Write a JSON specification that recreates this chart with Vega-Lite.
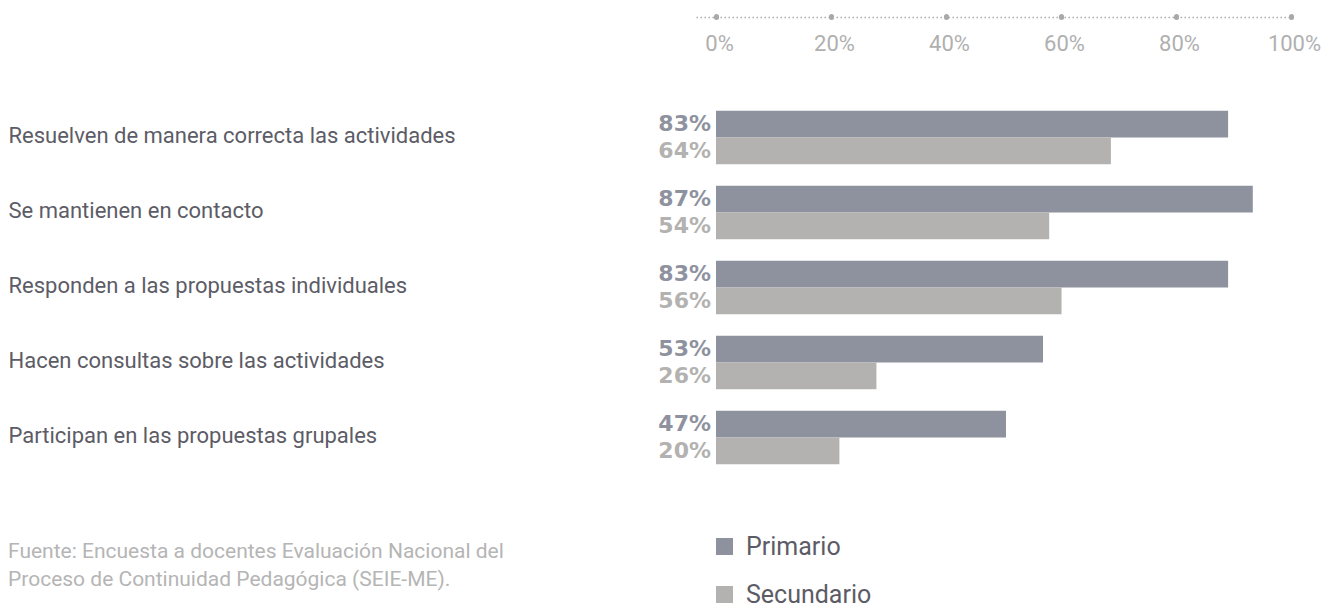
{
  "$schema": "https://vega.github.io/schema/vega-lite/v6.json",
  "width": 617,
  "height": 375,
  "autosize": {"type": "none"},
  "padding": {"left": 716, "top": 100, "right": 5, "bottom": 132},
  "background": "white",
  "config": {"view": {"stroke": null}},
  "data": {
    "values": [
      {"item": "Resuelven de manera correcta las actividades", "serie": "Primario", "value": 0.83},
      {"item": "Resuelven de manera correcta las actividades", "serie": "Secundario", "value": 0.64},
      {"item": "Se mantienen en contacto", "serie": "Primario", "value": 0.87},
      {"item": "Se mantienen en contacto", "serie": "Secundario", "value": 0.54},
      {"item": "Responden a las propuestas individuales", "serie": "Primario", "value": 0.83},
      {"item": "Responden a las propuestas individuales", "serie": "Secundario", "value": 0.56},
      {"item": "Hacen consultas sobre las actividades", "serie": "Primario", "value": 0.53},
      {"item": "Hacen consultas sobre las actividades", "serie": "Secundario", "value": 0.26},
      {"item": "Participan en las propuestas grupales", "serie": "Primario", "value": 0.47},
      {"item": "Participan en las propuestas grupales", "serie": "Secundario", "value": 0.20}
    ]
  },
  "title": {
    "text": ["Fuente: Encuesta a docentes Evaluación Nacional del", "Proceso de Continuidad Pedagógica (SEIE-ME)."],
    "orient": "bottom",
    "anchor": "start",
    "align": "left",
    "frame": "group",
    "dx": -708,
    "offset": -67,
    "font": "Roboto",
    "fontSize": 21,
    "fontWeight": "normal",
    "color": "#b5b5b5",
    "lineHeight": 28
  },
  "layer": [
    {
      "mark": {"type": "bar"},
      "encoding": {
        "y": {
          "field": "item", "type": "nominal", "sort": null,
          "scale": {"paddingInner": 0.289, "paddingOuter": 0.1445},
          "axis": {"title": null, "domain": false, "ticks": false, "tickSize": 0, "labelAlign": "left", "labelPadding": 708, "labelLimit": 700, "labelFont": "Roboto", "labelFontSize": 22, "labelColor": "#5c5c66", "labelBaseline": "middle", "labelOffset": -2}
        },
        "yOffset": {"field": "serie", "type": "nominal", "sort": ["Primario", "Secundario"], "scale": {"paddingInner": 0, "paddingOuter": 0}},
        "x": {"field": "value", "type": "quantitative", "scale": {"domain": [0, 1], "range": [0, 617]}, "axis": null},
        "color": {
          "field": "serie", "type": "nominal",
          "scale": {"domain": ["Primario", "Secundario"], "range": ["#8e929e", "#b3b2b0"]},
          "legend": {"title": null, "orient": "none", "legendX": -4, "legendY": 434, "symbolType": "square", "symbolSize": 289, "symbolStrokeWidth": 0, "symbolOpacity": 1, "labelFont": "Roboto", "labelFontSize": 25, "labelColor": "#5c5c66", "labelOffset": 9, "rowPadding": 22, "padding": 0}
        }
      }
    },
    {
      "mark": {"type": "text", "align": "right", "baseline": "middle", "dx": -5, "font": "DejaVu Sans", "fontWeight": "bold", "fontSize": 22},
      "encoding": {
        "y": {"field": "item", "type": "nominal", "sort": null},
        "yOffset": {"field": "serie", "type": "nominal", "sort": ["Primario", "Secundario"]},
        "x": {"datum": 0, "type": "quantitative", "scale": {"domain": [0, 1], "range": [0, 617]}, "axis": null},
        "text": {"field": "value", "format": ".0%"},
        "color": {"field": "serie", "type": "nominal", "legend": null}
      }
    },
    {
      "mark": {"type": "point", "opacity": 0},
      "encoding": {
        "x": {
          "field": "value", "type": "quantitative",
          "scale": {"domain": [-0.03478, 1], "range": [-20, 575]},
          "axis": {"orient": "top", "offset": 83, "values": [0, 0.2, 0.4, 0.6, 0.8, 1], "format": ".0%", "grid": false, "title": null, "domainColor": "#aaaaaa", "domainDash": [1.5, 2.5], "domainWidth": 1.5, "ticks": true, "tickSize": 1, "tickWidth": 5, "tickCap": "round", "tickColor": "#a8a8a8", "labelBaseline": "top", "labelPadding": -17, "labelFont": "Roboto", "labelFontSize": 22, "labelColor": "#b0b0b0", "labelFlush": false, "labelOverlap": false, "labelOffset": 3}
        }
      }
    }
  ],
  "resolve": {"scale": {"x": "independent"}, "axis": {"x": "independent"}}
}
